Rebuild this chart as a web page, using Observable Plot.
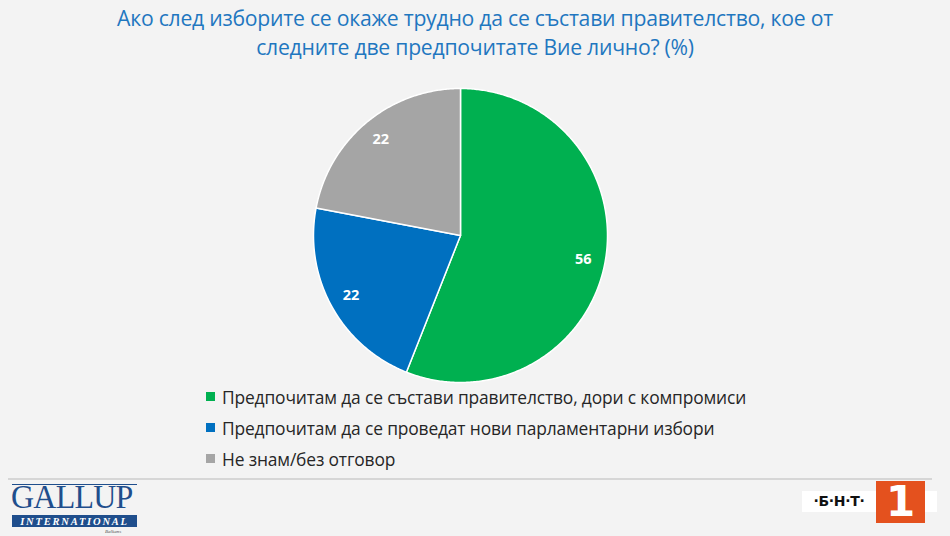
<!DOCTYPE html>
<html><head><meta charset="utf-8">
<script src="https://cdn.jsdelivr.net/npm/d3@7"></script>
<script src="https://cdn.jsdelivr.net/npm/@observablehq/plot@0.6"></script>
<style>
html,body{margin:0;padding:0;background:#f3f3f3;}
#page{position:relative;width:950px;height:536px;background:#f3f3f3;overflow:hidden;font-family:"Open Sans",sans-serif;}
#title{position:absolute;left:0;top:3px;width:950px;text-align:center;color:#1F77C0;font-size:21.2px;line-height:29px;letter-spacing:-0.25px;}
#chart{position:absolute;left:310px;top:85px;}
#legend{position:absolute;left:206px;top:381px;font-size:17.4px;color:#262626;letter-spacing:-0.15px;}
.li{height:31px;display:flex;align-items:center;}
.sw{width:9px;height:9px;margin-right:7px;}
#rule{position:absolute;left:8px;top:478px;width:924px;height:2px;background:#d6d6d6;}
#gtop{position:absolute;left:12px;top:484px;width:125px;height:1px;background:#1f4e8c;}
#gname{position:absolute;left:11px;top:482.5px;height:28px;font-family:"Liberation Serif",serif;color:#1f4e8c;font-size:34px;line-height:28px;letter-spacing:-0.8px;transform:scaleX(0.94);transform-origin:left;white-space:nowrap;}
#gint{position:absolute;left:12px;top:515px;width:125px;height:10px;padding-top:2px;background:#1f4e8c;color:#fff;font-family:"Liberation Serif",serif;font-style:italic;font-weight:bold;font-size:10.5px;text-align:center;letter-spacing:1.8px;line-height:10px;}
#gbal{position:absolute;left:105px;top:529px;font-family:"Liberation Serif",serif;font-size:5px;line-height:6px;color:#555;font-style:italic;}
#bntbg{position:absolute;left:802px;top:491px;width:135px;height:21px;background:#fff;}
#bnt{position:absolute;left:802px;top:491px;width:74px;height:21px;font-family:"DejaVu Sans",sans-serif;font-weight:bold;font-size:14px;line-height:21px;text-align:center;color:#111;letter-spacing:-0.3px;}
#one{position:absolute;left:876px;top:481px;width:49px;height:42px;background:#E4511E;color:#fff;font-family:"DejaVu Sans",sans-serif;font-weight:bold;font-size:42px;line-height:42px;text-align:center;}
</style></head>
<body><div id="page">
<div id="title">Ако след изборите се окаже трудно да се състави правителство, кое от<br>следните две предпочитате Вие лично? (%)</div>
<div id="chart"></div>
<div id="legend"></div>
<div id="rule"></div>
<div id="gtop"></div><div id="gname">GALLUP</div><div id="gint">INTERNATIONAL</div><div id="gbal">Balkans</div>
<div id="bntbg"></div>
<div id="bnt">·Б·Н·Т·</div>
<div id="one">1</div>
</div>
<script>
const categories = [
  "Предпочитам да се състави правителство, дори с компромиси",
  "Предпочитам да се проведат нови парламентарни избори",
  "Не знам/без отговор"
];
const values = [56, 22, 22];
const colors = ["#00B050", "#0070C0", "#A5A5A5"];

const data = categories.map((c, i) => ({category: c, value: values[i]}));
const arcs = d3.pie().sort(null).value(d => d.value)(data);

// polygon points of each slice in unit coordinates (angle from 12 o'clock clockwise)
const pts = [];
arcs.forEach((a, i) => {
  pts.push({k: i, x: 0, y: 0});
  const n = Math.max(2, Math.ceil((a.endAngle - a.startAngle) / 0.01));
  for (let j = 0; j <= n; j++) {
    const t = a.startAngle + (a.endAngle - a.startAngle) * j / n;
    pts.push({k: i, x: Math.sin(t), y: Math.cos(t)});
  }
});
const labels = arcs.map((a, i) => {
  const m = (a.startAngle + a.endAngle) / 2;
  return {x: 0.85 * Math.sin(m), y: 0.85 * Math.cos(m), text: String(a.data.value)};
});

const plot = Plot.plot({
  width: 300, height: 300,
  margin: 3,
  style: {background: "transparent", overflow: "visible"},
  x: {domain: [-1, 1], axis: null},
  y: {domain: [-1, 1], axis: null},
  color: {domain: [0, 1, 2], range: colors},
  marks: [
    Plot.line(pts, {x: "x", y: "y", z: "k", fill: "k", stroke: "white", strokeWidth: 1.5, curve: "linear-closed"}),
    Plot.text(labels, {x: "x", y: "y", text: "text", fill: "white", fontWeight: "bold", fontSize: 14.5, fontFamily: "Open Sans"})
  ]
});
document.getElementById("chart").appendChild(plot);

const leg = document.getElementById("legend");
categories.forEach((c, i) => {
  const row = document.createElement("div");
  row.className = "li";
  row.innerHTML = `<div class="sw" style="background:${colors[i]}"></div><span>${c}</span>`;
  leg.appendChild(row);
});
</script>
</body></html>
